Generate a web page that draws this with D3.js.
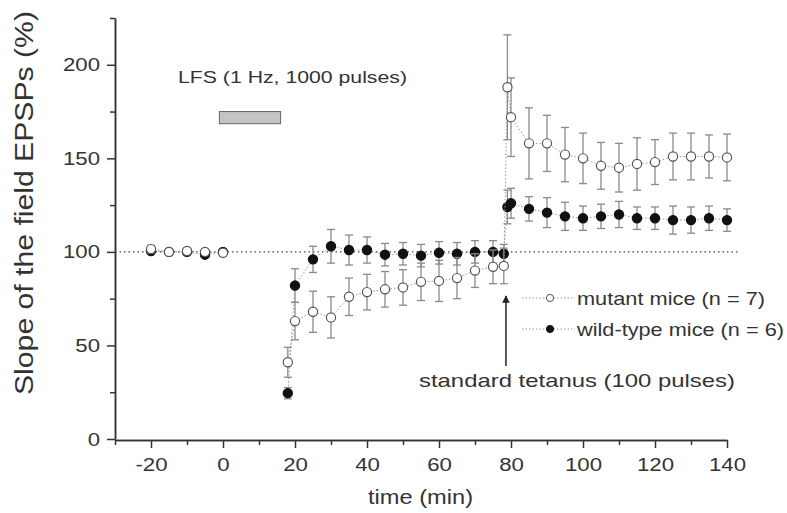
<!DOCTYPE html>
<html>
<head>
<meta charset="utf-8">
<script src="https://cdn.jsdelivr.net/npm/d3@7"></script>
<style>
  body { margin: 0; background: #fff; }
  svg { font-family: "Liberation Sans", Arial, Helvetica, sans-serif; }
  .axis path, .axis line { stroke: #333; stroke-width: 1.5; }
  .axis text { fill: #333; font-size: 19px; }
</style>
</head>
<body>
<div id="chart"></div>
<script>
// time points (min) shared by both groups
var times = [-20, -15, -10, -5, 0, 18, 20, 25, 30, 35, 40, 45, 50, 55, 60, 65, 70, 75, 78,
             79, 80, 85, 90, 95, 100, 105, 110, 115, 120, 125, 130, 135, 140];

var mutantMean = [101.5, 100, 100.5, 100, 99.5, 41, 63, 68, 65, 76, 78.5, 80, 81, 84, 84.5, 86, 90, 92, 92.5,
                  188, 172, 158, 158, 152, 150, 146, 145, 147, 148, 151, 151, 151, 150.5];
var mutantErr = [2, 1.5, 1.5, 1.5, 1.5, 8, 10, 11, 11, 10, 9.5, 9.5, 9.5, 10, 11, 11, 9, 9, 9.5,
                 28, 21, 19, 15, 14.5, 13.5, 12.5, 13, 14, 12, 12.5, 12.5, 11.5, 12.5];

var wildMean = [100.5, 100, 100, 98.5, 100, 24.5, 82, 96, 103, 101, 101, 98.5, 99, 98, 99.5, 99, 100, 100, 99,
                124, 126, 123, 121, 119, 118, 119, 120, 118, 118, 117, 117, 118, 117];
var wildErr = [1.5, 1, 1, 1.5, 1, 3, 9, 7, 9, 8, 7, 6, 6, 6, 6, 6, 6, 6, 5,
               9, 8, 6.5, 8, 7.5, 6.5, 6.5, 7, 6, 6, 7.5, 7, 6.5, 6];

var xMajor = [-20, 0, 20, 40, 60, 80, 100, 120, 140];
var xMinor = [-30, -10, 10, 30, 50, 70, 90, 110, 130];
var yMajor = [0, 50, 100, 150, 200];
var yMinor = [25, 75, 125, 175, 225];

var width = 787, height = 513;
var margin = {top: 18, left: 115};
var stretch = 1.17;   // the original lettering is wider than Arial

var svg = d3.select("#chart").append("svg")
    .attr("width", width)
    .attr("height", height);

var x = d3.scaleLinear().domain([-30, 140]).range([margin.left, 727]);
var y = d3.scaleLinear().domain([0, 225]).range([439, margin.top]);

function makeSeries(mean, err) {
    return times.map((t, i) => ({t: t, v: mean[i], e: err[i]}));
}
var mutant = makeSeries(mutantMean, mutantErr);
var wild = makeSeries(wildMean, wildErr);

var hyphen = d => d < 0 ? "-" + Math.abs(d) : "" + d;

// axes
var xAxisMinor = d3.axisBottom(x).tickValues(xMinor).tickSize(5).tickFormat("").tickSizeOuter(0);
var xAxis = d3.axisBottom(x).tickValues(xMajor).tickSize(8).tickSizeOuter(0).tickPadding(10).tickFormat(hyphen);
var yAxisMinor = d3.axisLeft(y).tickValues(yMinor).tickSize(5).tickFormat("").tickSizeOuter(0);
var yAxis = d3.axisLeft(y).tickValues(yMajor).tickSize(8).tickSizeOuter(0).tickPadding(7);

svg.append("g").attr("class", "axis").attr("transform", "translate(0,440)").call(xAxisMinor);
svg.append("g").attr("class", "axis").attr("transform", "translate(0,440)").call(xAxis)
    .selectAll("text").attr("transform", `scale(${stretch},1)`);
svg.append("g").attr("class", "axis").attr("transform", `translate(${margin.left},0)`).call(yAxisMinor);
svg.append("g").attr("class", "axis").attr("transform", `translate(${margin.left},0)`).call(yAxis)
    .selectAll("text").attr("x", -15 / stretch).attr("transform", `scale(${stretch},1)`);

// helper for the wide lettering
function label(txt, xPos, yPos, size, len) {
    return svg.append("text")
        .attr("x", xPos).attr("y", yPos)
        .attr("fill", "#333")
        .style("font-size", size + "px")
        .attr("textLength", len)
        .attr("lengthAdjust", "spacingAndGlyphs")
        .text(txt);
}

// axis titles
label("time (min)", 368, 504, 20, 105);

svg.append("text")
    .attr("transform", "translate(33,203) rotate(-90)")
    .attr("text-anchor", "middle")
    .attr("fill", "#333")
    .style("font-size", "25px")
    .attr("textLength", 384)
    .attr("lengthAdjust", "spacingAndGlyphs")
    .text("Slope of the field EPSPs (%)");

// reference line at 100%
svg.append("line")
    .attr("x1", x(-30)).attr("x2", 738)
    .attr("y1", y(100)).attr("y2", y(100))
    .attr("stroke", "#444")
    .attr("stroke-width", 1.2)
    .attr("stroke-dasharray", "1.5,3");

// LFS bar and label
svg.append("rect")
    .attr("x", x(-1)).attr("y", y(175))
    .attr("width", x(16) - x(-1))
    .attr("height", y(168.5) - y(175))
    .attr("fill", "#c4c4c4")
    .attr("stroke", "#666")
    .attr("stroke-width", 1);

label("LFS (1 Hz, 1000 pulses)", 178, 83, 17, 229);

var line = d3.line().x(d => x(d.t)).y(d => y(d.v));

function drawSeries(data, filled) {
    var g = svg.append("g");
    // no recording during LFS, so the trace is broken there
    [data.filter(d => d.t <= 0), data.filter(d => d.t >= 18)].forEach(part => {
        g.append("path")
            .datum(part)
            .attr("d", line)
            .attr("fill", "none")
            .attr("stroke", "#999")
            .attr("stroke-width", 1)
            .attr("stroke-dasharray", "1.5,2");
    });

    var eb = g.selectAll(".eb").data(data).enter().append("g");
    eb.append("line")
        .attr("x1", d => x(d.t)).attr("x2", d => x(d.t))
        .attr("y1", d => y(d.v - d.e)).attr("y2", d => y(d.v + d.e))
        .attr("stroke", "#8a8a8a").attr("stroke-width", 1.3);
    eb.append("line")
        .attr("x1", d => x(d.t) - 4).attr("x2", d => x(d.t) + 4)
        .attr("y1", d => y(d.v + d.e)).attr("y2", d => y(d.v + d.e))
        .attr("stroke", "#8a8a8a").attr("stroke-width", 1.3);
    eb.append("line")
        .attr("x1", d => x(d.t) - 4).attr("x2", d => x(d.t) + 4)
        .attr("y1", d => y(d.v - d.e)).attr("y2", d => y(d.v - d.e))
        .attr("stroke", "#8a8a8a").attr("stroke-width", 1.3);

    g.selectAll("circle").data(data).enter().append("circle")
        .attr("cx", d => x(d.t))
        .attr("cy", d => y(d.v))
        .attr("r", 4.6)
        .attr("fill", filled ? "#111" : "#fff")
        .attr("stroke", filled ? "#111" : "#555")
        .attr("stroke-width", 1.2);
}

drawSeries(wild, true);
drawSeries(mutant, false);

// legend
var legend = [
    {label: "mutant mice (n = 7)", filled: false, y: 298, len: 188},
    {label: "wild-type mice (n = 6)", filled: true, y: 329, len: 207}
];
legend.forEach(l => {
    svg.append("line")
        .attr("x1", 522).attr("x2", 575)
        .attr("y1", l.y).attr("y2", l.y)
        .attr("stroke", "#999").attr("stroke-dasharray", "1.5,2");
    svg.append("circle")
        .attr("cx", 550).attr("cy", l.y).attr("r", 3.6)
        .attr("fill", l.filled ? "#111" : "#fff")
        .attr("stroke", l.filled ? "#111" : "#555");
    label(l.label, 577, l.y + 7, 19, l.len);
});

// tetanus arrow + label
svg.append("defs").append("marker")
    .attr("id", "arrow")
    .attr("viewBox", "0 0 10 10")
    .attr("refX", 9).attr("refY", 5)
    .attr("markerWidth", 5).attr("markerHeight", 5)
    .attr("orient", "auto")
    .append("path")
    .attr("d", "M0,0 L10,5 L0,10 z")
    .attr("fill", "#222");

svg.append("line")
    .attr("x1", x(78.6)).attr("x2", x(78.6))
    .attr("y1", 366).attr("y2", 296)
    .attr("stroke", "#222").attr("stroke-width", 1.5)
    .attr("marker-end", "url(#arrow)");

label("standard tetanus (100 pulses)", 419, 387, 19, 316);
</script>
</body>
</html>
